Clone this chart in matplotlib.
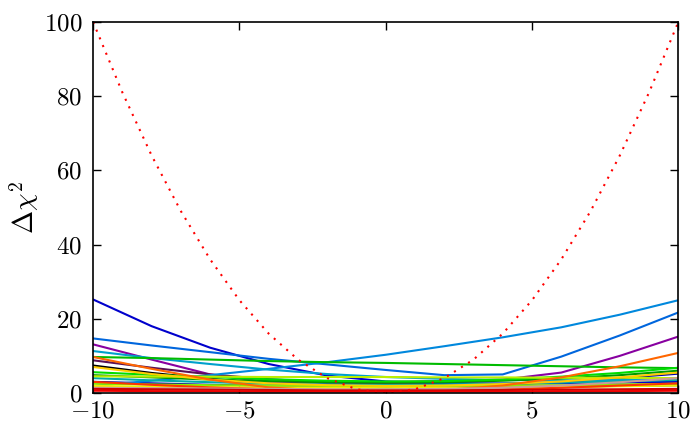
import matplotlib
matplotlib.use("Agg")
import matplotlib.pyplot as plt

plt.rcParams['font.family'] = 'cmr10'
plt.rcParams['mathtext.fontset'] = 'cm'
plt.rcParams['axes.formatter.use_mathtext'] = True
plt.rcParams['font.size'] = 18

# grid the profiles were read on
xs = [-10, -8, -6, -4, -2, 0, 2, 4, 6, 8, 10]

# reference curve (red dotted)
ref_x = [-10, -9, -8, -7, -6, -5, -4, -3, -2, -1, 0, 1, 2, 3, 4, 5, 6, 7, 8, 9, 10]
ref_y = [100, 81, 64, 49, 36, 25, 16, 9, 4, 1, 0, 1, 4, 9, 16, 25, 36, 49, 64, 81, 100]

# delta chi2 profiles, one list per parameter
dark_blue = [25.2, 18.0, 12.2, 7.8, 4.7, 3.1, 2.7, 2.5, 2.6, 2.8, 3.0]
azure = [1.9, 3.3, 4.8, 6.5, 8.3, 10.3, 12.6, 15.0, 17.7, 21.1, 25.0]
mid_blue = [14.7, 12.8, 11.0, 9.2, 7.7, 6.2, 4.8, 5.0, 9.8, 15.5, 21.7]
cyan = [11.3, 9.4, 7.8, 6.3, 5.1, 4.3, 3.8, 3.5, 3.4, 3.5, 3.6]
green = [9.7, 9.4, 9.0, 8.6, 8.3, 8.1, 7.8, 7.5, 7.2, 6.9, 6.7]
purple = [13.1, 9.0, 5.0, 2.9, 2.7, 2.9, 3.2, 3.6, 5.5, 10.0, 15.2]
orange = [9.7, 6.5, 3.6, 1.5, 0.6, 0.5, 0.8, 2.0, 4.2, 7.2, 10.8]
black = [7.4, 5.4, 3.8, 2.6, 2.0, 1.7, 1.6, 1.6, 1.7, 1.9, 2.1]
dark_purple = [8.8, 6.8, 5.0, 3.7, 2.9, 2.5, 2.4, 2.5, 2.8, 3.3, 4.0]
gold = [7.0, 5.1, 3.6, 2.6, 2.1, 1.9, 2.0, 2.4, 3.1, 4.2, 5.5]
dark_green = [4.8, 4.2, 3.6, 3.2, 2.9, 2.8, 2.9, 3.3, 3.9, 4.8, 6.0]
yellow_green = [4.5, 4.4, 4.4, 4.3, 4.3, 4.3, 4.2, 4.2, 4.1, 4.1, 4.0]
bright_green = [5.6, 4.9, 4.3, 3.7, 3.3, 3.1, 3.2, 3.6, 4.4, 5.4, 6.8]
teal = [4.0, 3.4, 2.9, 2.5, 2.3, 2.2, 2.3, 2.5, 2.8, 3.1, 3.5]
navy = [3.0, 2.6, 2.2, 1.9, 1.7, 1.7, 1.9, 2.3, 3.0, 4.0, 5.2]
lime = [2.5, 2.3, 2.1, 2.0, 1.9, 1.8, 1.9, 2.0, 2.1, 2.3, 2.5]
yellow = [1.9, 1.7, 1.6, 1.5, 1.4, 1.3, 1.4, 1.5, 1.6, 1.8, 2.0]
red_orange = [3.0, 2.2, 1.5, 1.0, 0.8, 0.7, 0.8, 1.0, 1.4, 2.0, 2.6]
grey = [1.4, 1.3, 1.2, 1.1, 1.0, 1.0, 1.1, 1.4, 2.0, 2.9, 4.0]
dark_red = [1.1, 1.0, 0.9, 0.8, 0.7, 0.7, 0.7, 0.8, 0.9, 1.0, 1.1]
red = [0.6, 0.5, 0.5, 0.4, 0.4, 0.4, 0.4, 0.4, 0.5, 0.5, 0.6]

profiles = [
    (black, '#000000'), (purple, '#8800a0'), (dark_purple, '#5a1055'),
    (navy, '#0000aa'), (dark_blue, '#0000cc'), (mid_blue, '#0066dd'),
    (azure, '#0088dd'), (cyan, '#00a0cc'), (teal, '#00aaaa'),
    (dark_green, '#009900'), (green, '#00bb00'), (bright_green, '#00dd00'),
    (lime, '#88ee00'), (yellow_green, '#bbee00'), (yellow, '#eeee00'),
    (gold, '#ffcc00'), (orange, '#ff6600'), (red_orange, '#ff3300'),
    (grey, '#cc9999'), (dark_red, '#cc0000'), (red, '#ee0000'),
]

fig = plt.figure(figsize=(6.95, 4.23), dpi=100)
ax = fig.add_axes([0.134, 0.071, 0.842, 0.877])

for vals, c in profiles:
    ax.plot(xs, vals, color=c, lw=1.5)

ax.plot(ref_x, ref_y, color='r', ls=(0, (1, 3)), lw=1.5)

ax.set_xlim(-10, 10)
ax.set_ylim(0, 100)
ax.set_xticks([-10, -5, 0, 5, 10])
ax.set_yticks([0, 20, 40, 60, 80, 100])
ax.tick_params(direction='in', top=True, right=True, length=6, width=1)
ax.tick_params(axis='x', pad=5)
ax.tick_params(axis='y', pad=8)
for s in ax.spines.values():
    s.set_linewidth(1.2)
ax.set_ylabel(r'$\Delta\chi^2$', fontsize=20, labelpad=2)

fig.savefig('out.png', dpi=100)
